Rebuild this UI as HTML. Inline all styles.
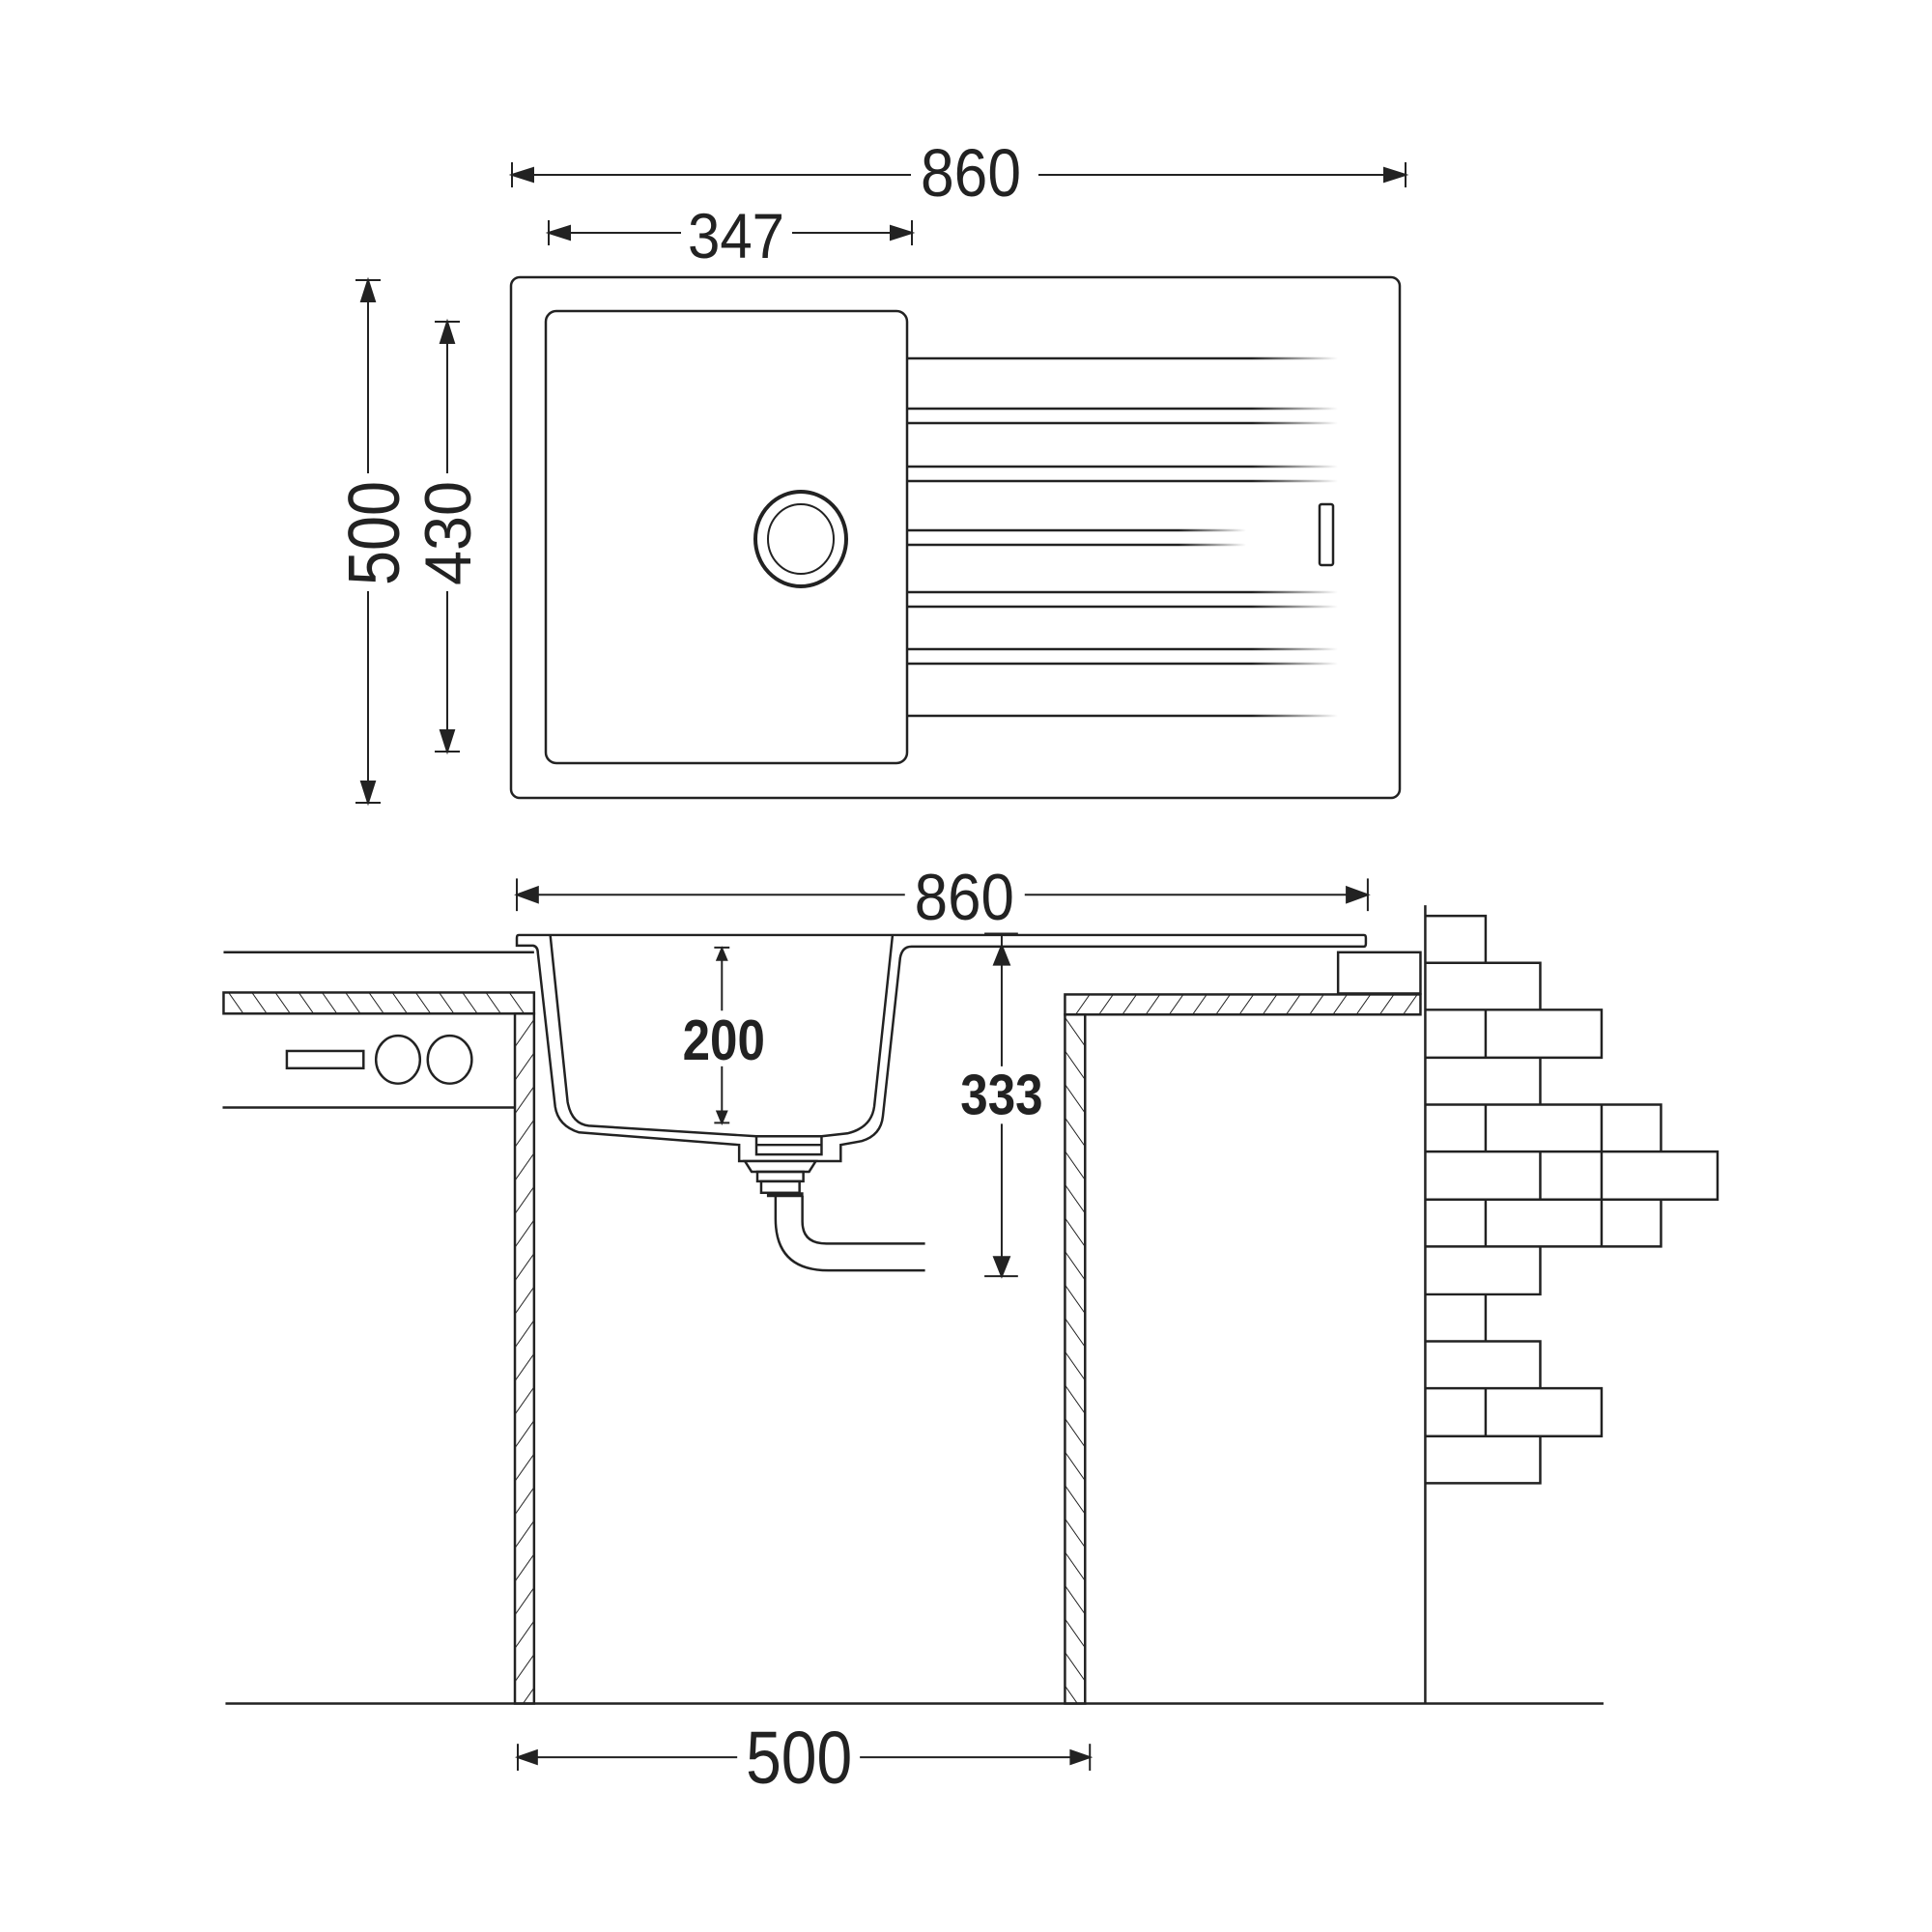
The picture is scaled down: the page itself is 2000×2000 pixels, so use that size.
<!DOCTYPE html>
<html><head><meta charset="utf-8"><style>html,body{margin:0;padding:0;background:#fff}svg{display:block}</style></head>
<body>
<svg width="2000" height="2000" viewBox="0 0 2000 2000" xmlns="http://www.w3.org/2000/svg">
<defs>
<pattern id="hb" width="20" height="20" patternUnits="userSpaceOnUse" patternTransform="rotate(35)"><line x1="0" y1="0" x2="0" y2="20" stroke="#222" stroke-width="2"/></pattern>
<pattern id="hf" width="20" height="20" patternUnits="userSpaceOnUse" patternTransform="rotate(-35)"><line x1="0" y1="0" x2="0" y2="20" stroke="#222" stroke-width="2"/></pattern>
<linearGradient id="fade" x1="0" x2="1" y1="0" y2="0"><stop offset="0.8" stop-color="#222"/><stop offset="1" stop-color="#222" stop-opacity="0"/></linearGradient>
</defs>
<g fill="none" stroke="#222" stroke-width="2.5">
<rect x="529" y="287" width="920" height="539" rx="9"/>
<rect x="565" y="322" width="374" height="468" rx="11"/>
<ellipse cx="829" cy="558" rx="47" ry="49" stroke-width="4"/>
<ellipse cx="829" cy="558" rx="34" ry="36" stroke-width="2"/>
<rect x="1366" y="522" width="14" height="63" rx="2"/>
</g>
<g stroke="url(#fade)" stroke-width="2.5">
<line x1="939" y1="371" x2="1385" y2="371.01"/>
<line x1="939" y1="423" x2="1385" y2="423.01"/>
<line x1="939" y1="438" x2="1385" y2="438.01"/>
<line x1="939" y1="483" x2="1385" y2="483.01"/>
<line x1="939" y1="498" x2="1385" y2="498.01"/>
<line x1="939" y1="549" x2="1290" y2="549.01"/>
<line x1="939" y1="564" x2="1290" y2="564.01"/>
<line x1="939" y1="613" x2="1385" y2="613.01"/>
<line x1="939" y1="628" x2="1385" y2="628.01"/>
<line x1="939" y1="672" x2="1385" y2="672.01"/>
<line x1="939" y1="687" x2="1385" y2="687.01"/>
<line x1="939" y1="741" x2="1385" y2="741.01"/>
</g>
<g stroke="#222" stroke-width="2" fill="#222">
<line x1="530" y1="181" x2="943" y2="181"/><line x1="1075" y1="181" x2="1455" y2="181"/>
<line x1="530" y1="168" x2="530" y2="194"/><line x1="1455" y1="168" x2="1455" y2="194"/>
<polygon points="530,181 552,174 552,188"/><polygon points="1455,181 1433,174 1433,188"/>
<line x1="568" y1="241" x2="705" y2="241"/><line x1="820" y1="241" x2="944" y2="241"/>
<line x1="568" y1="228" x2="568" y2="254"/><line x1="944" y1="228" x2="944" y2="254"/>
<polygon points="568,241 590,234 590,248"/><polygon points="944,241 922,234 922,248"/>
<line x1="381" y1="290" x2="381" y2="490"/><line x1="381" y1="612" x2="381" y2="831"/>
<line x1="368" y1="290" x2="394" y2="290"/><line x1="368" y1="831" x2="394" y2="831"/>
<polygon points="381,290 374,312 388,312"/><polygon points="381,831 374,809 388,809"/>
<line x1="463" y1="333" x2="463" y2="490"/><line x1="463" y1="612" x2="463" y2="778"/>
<line x1="450" y1="333" x2="476" y2="333"/><line x1="450" y1="778" x2="476" y2="778"/>
<polygon points="463,333 456,355 470,355"/><polygon points="463,778 456,756 470,756"/>
</g>
<g font-family="'Liberation Sans Narrow','Liberation Sans',sans-serif" fill="#222">
<text x="953" y="203" font-size="70" textLength="104" lengthAdjust="spacingAndGlyphs">860</text>
<text x="712" y="267" font-size="66" textLength="100" lengthAdjust="spacingAndGlyphs">347</text>
<text transform="translate(413,606) rotate(-90)" font-size="75" textLength="108" lengthAdjust="spacingAndGlyphs">500</text>
<text transform="translate(487,606) rotate(-90)" font-size="68" textLength="108" lengthAdjust="spacingAndGlyphs">430</text>
</g>
<!-- side view -->
<g transform="translate(536 960) scale(0.992) translate(-536 -963)">
<g fill="none" stroke="#222" stroke-width="2.5">
<line x1="229" y1="989" x2="553" y2="989"/>
<rect x="229" y="1031" width="324" height="22" fill="url(#hf)"/>
<rect x="533" y="1053" width="20" height="720" fill="url(#hb)"/>
<line x1="228" y1="1151" x2="533" y2="1151"/>
<rect x="295" y="1092" width="80" height="18"/>
<ellipse cx="411" cy="1101" rx="23" ry="25"/>
<ellipse cx="465" cy="1101" rx="23" ry="25"/>
<rect x="1107" y="1033" width="371" height="21" fill="url(#hb)"/>
<rect x="1107" y="1054" width="21" height="719" fill="url(#hf)"/>
<rect x="1392" y="989" width="86" height="43"/>
<line x1="1483" y1="940" x2="1483" y2="1773"/>
<line x1="231" y1="1773" x2="1669" y2="1773"/>
<path d="M1419,971 L537,971 Q535,971 535,974 L535,982 L552,982 Q557,983 557,990 L575,1150 Q578,1170 600,1177 L767,1190 L767,1207 L873,1207 L873,1190 L895,1186 Q915,1180 917,1160 L935,995 Q937,983 947,983 L1419,983 Q1421,983 1421,980 L1421,974 Q1421,971 1419,971 Z" fill="#fff"/>
<path d="M570,972 L588,1145 Q592,1168 610,1170 L785,1181 L853,1181 L880,1178 Q905,1172 908,1150 L927,972"/>
<rect x="785" y="1181" width="68" height="19" fill="#fff"/>
<line x1="785" y1="1190" x2="853" y2="1190"/>
<path d="M773,1207 L847,1207 L840,1218 L780,1218 Z" fill="#fff"/>
<rect x="786" y="1218" width="48" height="10"/>
<rect x="790" y="1228" width="40" height="12"/>
<line x1="796" y1="1242" x2="834" y2="1242" stroke-width="5"/>
<path d="M805,1243 L805,1267 Q805,1321 860,1321 L961,1321"/>
<path d="M833,1243 L833,1270 Q833,1293 858,1293 L961,1293"/>
</g>
<g fill="none" stroke="#222" stroke-width="2.5">
<path d="M1483,951 H1546 V1000"/>
<path d="M1483,1000 H1603 V1049"/>
<path d="M1483,1049 H1667 V1099 H1483 M1546,1049 V1099"/>
<path d="M1603,1099 V1148"/>
<path d="M1483,1148 H1729 V1197 M1546,1148 V1197 M1667,1148 V1197"/>
<path d="M1483,1197 H1788 V1247 H1483 M1603,1197 V1247 M1667,1197 V1247"/>
<path d="M1729,1247 V1296 H1483 M1546,1247 V1296 M1667,1247 V1296"/>
<path d="M1603,1296 V1346 H1483"/>
<path d="M1546,1346 V1395"/>
<path d="M1483,1395 H1603 V1444"/>
<path d="M1483,1444 H1667 V1494 H1483 M1546,1444 V1494"/>
<path d="M1603,1494 V1543 H1483"/>
</g>
<g stroke="#222" stroke-width="2" fill="#222">
<line x1="535" y1="929" x2="940" y2="929"/><line x1="1065" y1="929" x2="1423" y2="929"/>
<line x1="535" y1="912" x2="535" y2="946"/><line x1="1423" y1="912" x2="1423" y2="946"/>
<polygon points="535,929 557,921 557,937"/><polygon points="1423,929 1401,921 1401,937"/>
<line x1="536" y1="1829" x2="765" y2="1829"/><line x1="893" y1="1829" x2="1133" y2="1829"/>
<line x1="536" y1="1815" x2="536" y2="1843"/><line x1="1133" y1="1815" x2="1133" y2="1843"/>
<polygon points="536,1829 556,1822 556,1836"/><polygon points="1133,1829 1113,1822 1113,1836"/>
<line x1="749" y1="985" x2="749" y2="1050"/><line x1="749" y1="1108" x2="749" y2="1167"/>
<line x1="741" y1="984" x2="757" y2="984"/><line x1="741" y1="1167" x2="757" y2="1167"/>
<polygon points="749,985 744,997 754,997"/><polygon points="749,1167 744,1155 754,1155"/>
<line x1="1041" y1="972" x2="1041" y2="1108"/><line x1="1041" y1="1168" x2="1041" y2="1327"/>
<line x1="1023" y1="970" x2="1058" y2="970" stroke-width="3"/><line x1="1023" y1="1327" x2="1058" y2="1327"/>
<polygon points="1041,982 1033,1002 1049,1002"/><polygon points="1041,1327 1033,1307 1049,1307"/>
</g>
<g font-family="'Liberation Sans Narrow','Liberation Sans',sans-serif" fill="#222">
<text x="950" y="955" font-size="68" textLength="104" lengthAdjust="spacingAndGlyphs">860</text>
<text x="774" y="1856" font-size="78" textLength="111" lengthAdjust="spacingAndGlyphs">500</text>
<text x="708" y="1101" font-size="60" font-weight="bold" textLength="86" lengthAdjust="spacingAndGlyphs">200</text>
<text x="998" y="1158" font-size="60" font-weight="bold" textLength="86" lengthAdjust="spacingAndGlyphs">333</text>
</g>
</g>
</svg>
</body></html>
